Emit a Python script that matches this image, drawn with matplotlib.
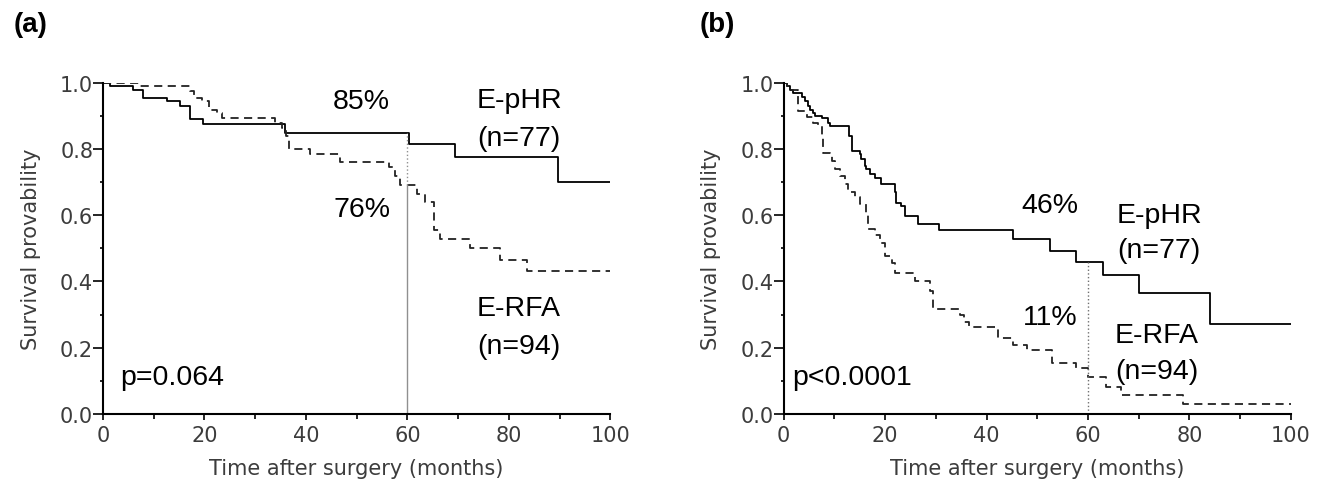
import matplotlib.pyplot as plt
from matplotlib.ticker import MultipleLocator

# panel (a): overall survival
a_phr_t = [0, 1.4, 6.0, 7.9, 12.7, 15.2, 17.2, 19.8, 35.9, 60.4, 69.4, 89.6, 100]
a_phr_s = [1.0, 0.99, 0.98, 0.955, 0.945, 0.93, 0.89, 0.875, 0.848, 0.815, 0.777, 0.70, 0.70]
a_rfa_t = [0, 7.3, 17.2, 18.0, 19.5, 21.0, 22.5, 23.5, 33.9, 35.2, 36.0, 36.7, 40.8, 46.7,
           56.3, 57.6, 58.6, 61.9, 63.5, 65.2, 66.5, 72.4, 78.3, 83.6, 100]
a_rfa_s = [1.0, 0.99, 0.975, 0.955, 0.945, 0.92, 0.91, 0.895, 0.88, 0.865, 0.84, 0.80, 0.785, 0.762,
           0.745, 0.72, 0.692, 0.665, 0.64, 0.555, 0.528, 0.50, 0.465, 0.432, 0.432]

# panel (b): recurrence-free survival
b_phr_t = [0, 0.6, 1.3, 1.9, 3.6, 4.2, 4.9, 5.2, 5.8, 6.2, 7.5, 8.8, 9.1, 12.9, 13.4, 15.0, 15.3,
           16.0, 16.3, 17.0, 18.0, 19.3, 21.9, 22.2, 23.2, 24.0, 26.4, 30.7, 45.2, 52.6, 57.7,
           62.9, 70.0, 84.0, 100]
b_phr_s = [1.0, 0.99, 0.98, 0.97, 0.957, 0.947, 0.93, 0.92, 0.91, 0.90, 0.895, 0.88, 0.871, 0.84,
           0.795, 0.785, 0.77, 0.75, 0.74, 0.726, 0.714, 0.694, 0.67, 0.638, 0.628, 0.598, 0.575,
           0.555, 0.529, 0.492, 0.459, 0.419, 0.366, 0.27, 0.27]
b_rfa_t = [0, 0.6, 1.3, 2.9, 4.6, 5.8, 6.8, 7.5, 7.8, 9.1, 9.6, 10.1, 11.1, 12.1, 12.7, 14.0, 15.0,
           16.3, 16.6, 18.0, 19.0, 20.0, 21.3, 21.9, 25.9, 28.8, 29.5, 34.7, 35.5, 36.5, 42.3,
           45.2, 47.9, 52.9, 57.7, 60.0, 63.5, 66.5, 78.7, 100]
b_rfa_s = [1.0, 0.99, 0.98, 0.916, 0.896, 0.88, 0.873, 0.84, 0.79, 0.785, 0.765, 0.74, 0.72, 0.694,
           0.67, 0.654, 0.633, 0.608, 0.558, 0.542, 0.517, 0.477, 0.457, 0.426, 0.40, 0.37, 0.318,
           0.30, 0.278, 0.263, 0.228, 0.208, 0.193, 0.152, 0.137, 0.112, 0.082, 0.057, 0.03, 0.03]

panels = [
    {"tag": "(a)", "phr": (a_phr_t, a_phr_s), "rfa": (a_rfa_t, a_rfa_s),
     "pct_phr": "85%", "pct_rfa": "76%", "p": "p=0.064",
     "s60_phr": 0.848, "s60_rfa": 0.692, "left": 0.0781},
    {"tag": "(b)", "phr": (b_phr_t, b_phr_s), "rfa": (b_rfa_t, b_rfa_s),
     "pct_phr": "46%", "pct_rfa": "11%", "p": "p<0.0001",
     "s60_phr": 0.459, "s60_rfa": 0.137, "left": 0.5945},
]

fig = plt.figure(figsize=(13.18, 4.89), dpi=100)
tick_col = "#3c3c3c"

for i, p in enumerate(panels):
    ax = fig.add_axes([p["left"], 0.152, 0.385, 0.676])
    ax.step(p["phr"][0], p["phr"][1], where="post", color="black", lw=1.3)
    ax.step(p["rfa"][0], p["rfa"][1], where="post", color="#222222", lw=1.3,
            linestyle=(0, (4.5, 3)))
    if i == 0:
        ax.plot([60, 60], [0, p["s60_rfa"]], color="#909090", lw=1.0)
        ax.plot([60, 60], [p["s60_rfa"], p["s60_phr"]], color="#909090", lw=1.0, linestyle=":")
    else:
        ax.plot([60, 60], [0, p["s60_phr"]], color="#707070", lw=1.0, linestyle=":")

    ax.set_xlim(0, 100)
    ax.set_ylim(0, 1.0)
    for s in ["top", "right"]:
        ax.spines[s].set_visible(False)
    for s in ["left", "bottom"]:
        ax.spines[s].set_linewidth(1.5)
    ax.xaxis.set_major_locator(MultipleLocator(20))
    ax.xaxis.set_minor_locator(MultipleLocator(10))
    ax.yaxis.set_major_locator(MultipleLocator(0.2))
    ax.yaxis.set_minor_locator(MultipleLocator(0.1))
    ax.yaxis.set_major_formatter(plt.FormatStrFormatter("%.1f"))
    ax.tick_params(which="both", direction="out", width=1.2, colors="black",
                   labelcolor=tick_col, labelsize=15)
    ax.tick_params(axis="x", which="major", length=4.5, pad=4)
    ax.tick_params(axis="x", which="minor", length=3.5)
    ax.tick_params(axis="y", which="major", length=7, pad=0)
    ax.tick_params(axis="y", which="minor", length=2.5)
    ax.set_xlabel("Time after surgery (months)", fontsize=15, color=tick_col, labelpad=9)
    ax.set_ylabel("Survival provability", fontsize=15, color=tick_col, labelpad=14)
    ax.patch.set_alpha(0)

    fk = dict(family="Liberation Sans", fontsize=20.5, color="black", ha="center", va="center")
    if i == 0:
        ax.text(51, 0.945, p["pct_phr"], **fk)
        ax.text(51, 0.62, p["pct_rfa"], **fk)
        ax.text(82, 0.95, "E-pHR", **fk)
        ax.text(82, 0.835, "(n=77)", **fk)
        ax.text(82, 0.32, "E-RFA", **fk)
        ax.text(82, 0.205, "(n=94)", **fk)
        ax.text(3.5, 0.11, p["p"], **{**fk, "ha": "left"})
    else:
        ax.text(52.5, 0.63, p["pct_phr"], **fk)
        ax.text(52.5, 0.292, p["pct_rfa"], **fk)
        ax.text(74, 0.60, "E-pHR", **fk)
        ax.text(74, 0.495, "(n=77)", **fk)
        ax.text(73.5, 0.237, "E-RFA", **fk)
        ax.text(73.5, 0.13, "(n=94)", **fk)
        ax.text(1.8, 0.11, p["p"], **{**fk, "ha": "left"})

fig.text(0.01, 0.975, "(a)", family="Liberation Sans", fontsize=20, fontweight="bold", va="top")
fig.text(0.531, 0.975, "(b)", family="Liberation Sans", fontsize=20, fontweight="bold", va="top")

fig.savefig("out.png", dpi=100)
